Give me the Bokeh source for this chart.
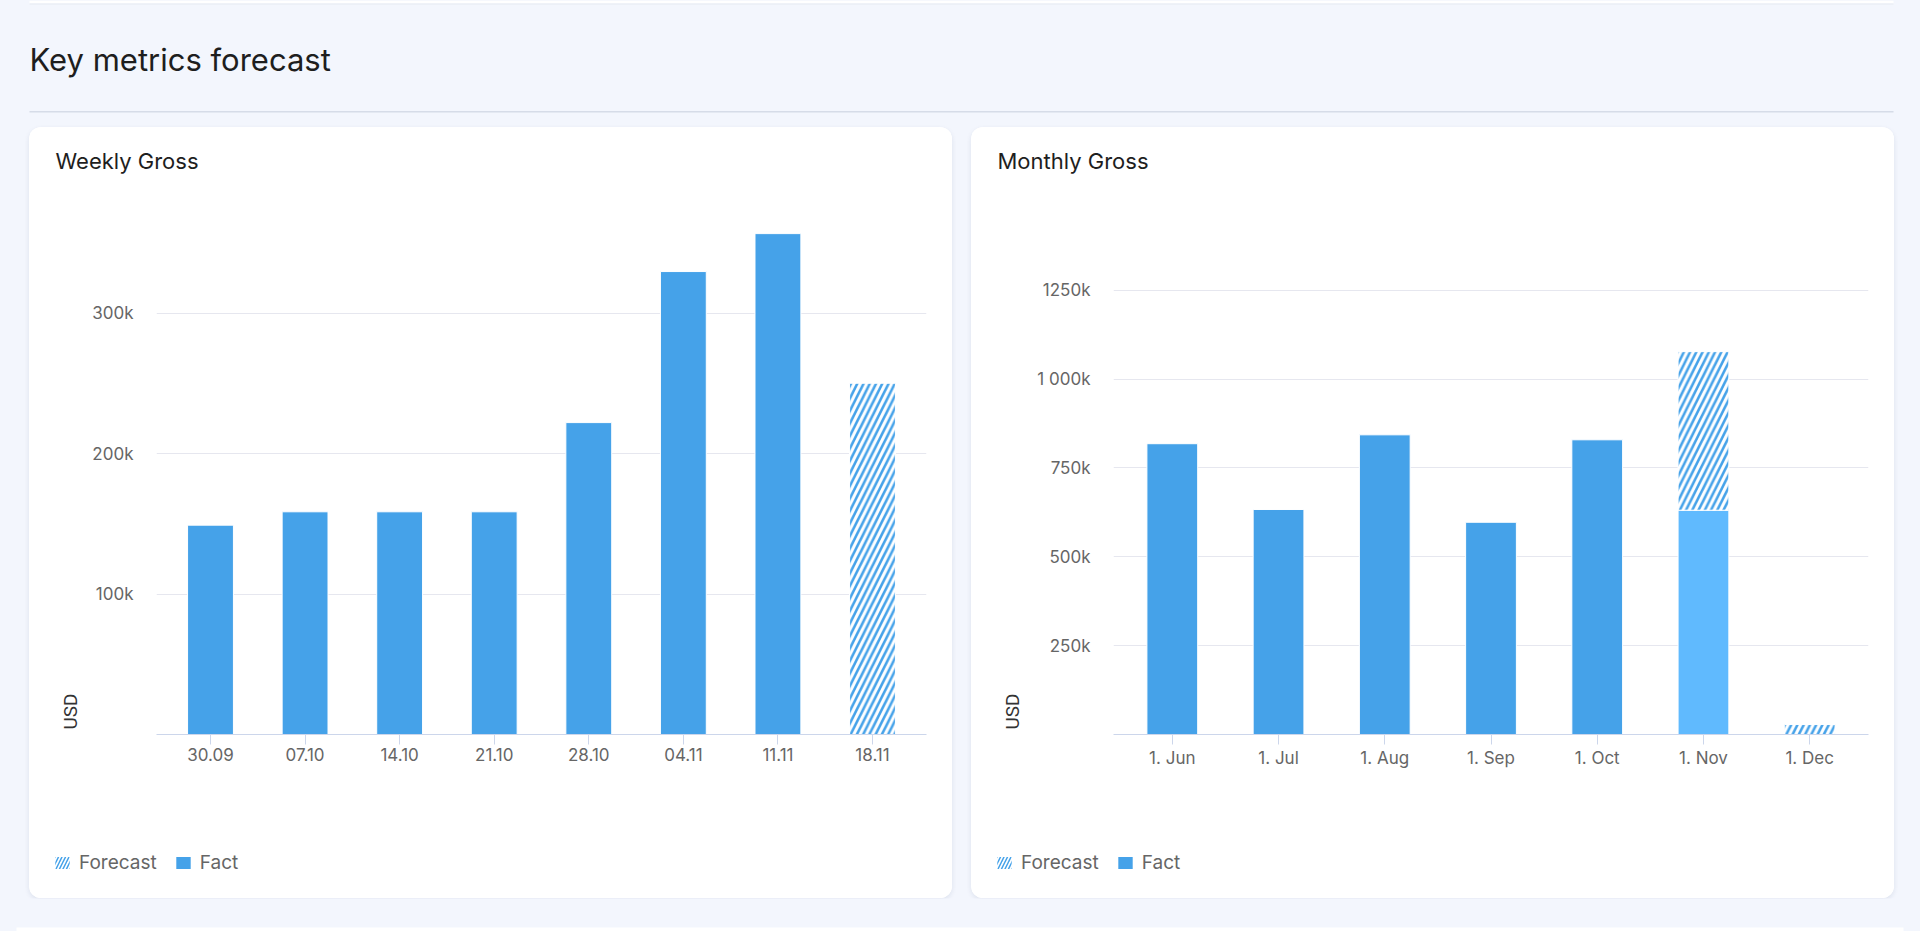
import math
from bokeh.plotting import figure
from bokeh.models import (ColumnDataSource, FactorRange, FixedTicker, Legend, LegendItem,
                          Label, Range1d, Spacer, BoxAnnotation)
from bokeh.layouts import column, row
from bokeh.transform import stack
from bokeh.embed import file_html
from bokeh.resources import INLINE

NAN = float("nan")

# ---------------- data ----------------
page_title = "Key metrics forecast"
weekly_title = "Weekly Gross"
monthly_title = "Monthly Gross"
y_axis_title = "USD"
legend_labels = ["Forecast", "Fact"]

weeks = ["30.09", "07.10", "14.10", "21.10", "28.10", "04.11", "11.11", "18.11"]
weekly_fact = [149000, 158500, 158500, 158500, 222000, 329500, 356500, 0]
weekly_forecast = [NAN, NAN, NAN, NAN, NAN, NAN, NAN, 250000]
weekly_ticks = [100000, 200000, 300000]
weekly_tick_labels = ["100k", "200k", "300k"]

months = ["1. Jun", "1. Jul", "1. Aug", "1. Sep", "1. Oct", "1. Nov", "1. Dec"]
monthly_fact = [818000, 633000, 843000, 597000, 829000, 631000, 0]
monthly_forecast = [NAN, NAN, NAN, NAN, NAN, 446000, 28000]
current_month = "1. Nov"
monthly_ticks = [250000, 500000, 750000, 1000000, 1250000]
monthly_tick_labels = ["250k", "500k", "750k", "1 000k", "1250k"]

# ---------------- styles ----------------
BG = "#F3F6FD"
FACT = "#45A2E9"
FACT_CURRENT = "#60BAFE"
GRID = "#E6E7EF"
AXIS = "#CCD6EB"
LABEL = "#666666"
DARK = "#1E1E1E"
FONT = "Inter"

W, H = 1920, 931
HEADER_H = 127
CARD_W, CARD_H = 923, 771
TITLE_H = 88          # card top -> plot frame top
FRAME_H = 519
AXIS_H = 50
CHART_H = FRAME_H + AXIS_H
LEGEND_H = CARD_H - TITLE_H - CHART_H
USD_W = 52
RIGHT = 26


def bare(width, height, xr, yr, bg):
    p = figure(width=width, height=height, x_range=xr, y_range=yr,
               x_axis_type=None, y_axis_type=None, output_backend="svg",
               toolbar_location=None, tools="", min_border=0,
               min_border_left=0, min_border_right=0, min_border_top=0, min_border_bottom=0,
               background_fill_color=bg, border_fill_color=bg, outline_line_color=None)
    p.grid.visible = False
    return p


def make_card(title, cats, fact, forecast, colors, ticks, tick_labels,
              y_end, frame_left, pad, bar_width):
    src = ColumnDataSource(dict(cat=cats, fact=fact, forecast=forecast, color=colors))

    # --- title strip
    tf = bare(CARD_W, TITLE_H, Range1d(0, CARD_W), Range1d(0, TITLE_H), "white")
    tf.add_layout(Label(x=26, y=TITLE_H - 33, x_units="screen", y_units="screen",
                        text=title, text_font=FONT, text_font_size="22px",
                        text_color=DARK, text_baseline="alphabetic", text_align="left"))

    # --- y-axis title strip (its frame bottom is aligned with the chart frame bottom)
    uf = bare(USD_W, CHART_H, Range1d(0, USD_W), Range1d(0, CHART_H), "white")
    uf.add_layout(Label(x=41, y=23, x_units="screen", y_units="screen",
                        angle=math.pi / 2, text=y_axis_title,
                        text_font="Roboto", text_font_size="19px", text_color="#333333",
                        text_baseline="middle", text_align="center"))

    # --- chart
    p = figure(width=CARD_W - USD_W, height=CHART_H,
               x_range=FactorRange(factors=cats, range_padding=pad,
                                   range_padding_units="absolute", factor_padding=0),
               y_range=Range1d(0, y_end),
               output_backend="svg", toolbar_location=None, tools="",
               min_border_left=frame_left - USD_W, min_border_right=RIGHT,
               min_border_top=0, min_border_bottom=AXIS_H,
               background_fill_color="white", border_fill_color="white",
               outline_line_color=None)

    p.vbar(x="cat", bottom=0, top=stack("fact"), width=bar_width, source=src,
           fill_color="color", line_color="white", line_width=1)
    p.vbar(x="cat", bottom=stack("fact"), top=stack("fact", "forecast"),
           width=bar_width, source=src, fill_color="white", line_color="white",
           line_width=1, hatch_pattern="/", hatch_color=FACT,
           hatch_scale=12.5, hatch_weight=2.6)

    xa = p.xaxis[0]
    xa.axis_line_color = AXIS
    xa.major_tick_line_color = AXIS
    xa.major_tick_out = 10
    xa.major_tick_in = 0
    xa.major_label_standoff = 3
    xa.major_label_text_font = FONT
    xa.major_label_text_font_size = "17px"
    xa.major_label_text_color = LABEL

    ya = p.yaxis[0]
    ya.ticker = FixedTicker(ticks=ticks)
    ya.major_label_overrides = {t: l for t, l in zip(ticks, tick_labels)}
    ya.axis_line_color = None
    ya.major_tick_line_color = None
    ya.minor_tick_line_color = None
    ya.major_tick_out = 0
    ya.major_tick_in = 0
    ya.major_label_standoff = 23
    ya.major_label_text_font = FONT
    ya.major_label_text_font_size = "17px"
    ya.major_label_text_color = LABEL

    p.xgrid.grid_line_color = None
    p.ygrid.ticker = FixedTicker(ticks=ticks)
    p.ygrid.grid_line_color = GRID

    # --- legend strip (legend glyphs from hidden renderers on the same data)
    lf = bare(CARD_W, LEGEND_H, FactorRange(factors=cats), Range1d(-2, -1), "white")
    r_fc = lf.vbar(x="cat", bottom=stack("fact"), top=stack("fact", "forecast"),
                   width=bar_width, source=src, fill_color="white", line_color=None,
                   hatch_pattern="/", hatch_color=FACT, hatch_scale=7, hatch_weight=1.5)
    r_fact = lf.vbar(x="cat", bottom=0, top=stack("fact"), width=bar_width, source=src,
                     fill_color="color", line_color=None)
    r_fc.visible = False
    r_fact.visible = False
    legend = Legend(items=[LegendItem(label=legend_labels[0], renderers=[r_fc],
                                      index=len(cats) - 1),
                           LegendItem(label=legend_labels[1], renderers=[r_fact], index=0)],
                    location=(24, LEGEND_H - (863 - HEADER_H - TITLE_H - CHART_H) - 11),
                    orientation="horizontal",
                    glyph_width=18, glyph_height=15, label_standoff=8, spacing=17,
                    padding=0, margin=0, border_line_color=None,
                    background_fill_alpha=0, inactive_fill_alpha=0,
                    label_text_font=FONT,
                    label_text_font_size="19px", label_text_color=LABEL,
                    label_height=15)
    lf.add_layout(legend)

    return column(tf, row(uf, p, spacing=0), lf, spacing=0,
                  styles={"border-radius": "12px", "overflow": "hidden",
                          "background-color": "white",
                          "box-shadow": "0 2px 5px rgba(30,50,100,0.10)"})


weekly_colors = [FACT for _ in weeks]
monthly_colors = [FACT_CURRENT if m == current_month else FACT for m in months]

wk = make_card(weekly_title, weeks, weekly_fact, weekly_forecast, weekly_colors,
               weekly_ticks, weekly_tick_labels, 369400, 127, 0.071, 0.485)
mo = make_card(monthly_title, months, monthly_fact, monthly_forecast, monthly_colors,
               monthly_ticks, monthly_tick_labels, 1460000, 142, 0.0535, 0.478)

# header
hd = bare(W, HEADER_H, Range1d(0, W), Range1d(0, HEADER_H), BG)
hd.add_layout(BoxAnnotation(left=29, right=1893, bottom=HEADER_H - 3, top=HEADER_H,
                            fill_color="white", fill_alpha=1, line_color=None))
hd.add_layout(BoxAnnotation(left=29, right=1893, bottom=HEADER_H - 4, top=HEADER_H - 3,
                            fill_color="#E6EAF2", fill_alpha=1, line_color=None))
hd.add_layout(BoxAnnotation(left=29, right=1893, bottom=HEADER_H - 112, top=HEADER_H - 110.5,
                            fill_color="#D6DCE8", fill_alpha=1, line_color=None))
hd.add_layout(Label(x=29, y=HEADER_H - 59, text=page_title, text_font=FONT,
                    text_font_size="31px", text_color=DARK,
                    text_baseline="alphabetic", text_align="left"))

# footer strip (top of the next card)
FOOT_H = H - HEADER_H - CARD_H
ft = bare(W, FOOT_H, Range1d(0, W), Range1d(0, FOOT_H), BG)
ft.add_layout(BoxAnnotation(left=16, right=1903, bottom=0, top=H - 927,
                            fill_color="white", fill_alpha=1, line_color=None))

cards = row(Spacer(width=29, height=CARD_H), wk, Spacer(width=19, height=CARD_H), mo,
            Spacer(width=W - 29 - 2 * CARD_W - 19, height=CARD_H), spacing=0)
layout = column(hd, cards, ft, spacing=0, styles={"background-color": BG})

open("out.html", "w").write(file_html(layout, INLINE))
